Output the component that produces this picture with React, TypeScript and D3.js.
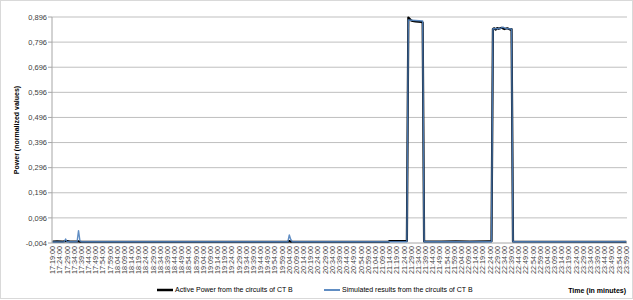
import React from "react";
import * as d3 from "d3";

const yTicks = [-0.004, 0.096, 0.196, 0.296, 0.396, 0.496, 0.596, 0.696, 0.796, 0.896];
const startTime = "17:19";
const endTime = "23:59";
const labelStep = 5;

const activeTimes = ["17:19","17:22","17:26","17:29","17:31","17:36","17:37","17:38","18:00","19:00","20:03","20:04","20:05","21:13","21:14","21:26","21:27","21:28","21:29","21:30","21:32","21:34","21:36","21:37","21:38","21:50","22:00","22:10","22:23","22:25","22:26","22:27","22:28","22:29","22:30","22:32","22:34","22:36","22:38","22:39","22:40","23:59"];
const activeValues = [0.002,0.003,0.002,0.004,0.002,0.002,0.003,0.001,0.001,0.001,0.001,0.004,0.001,0.001,0.004,0.004,0.894,0.888,0.882,0.880,0.878,0.877,0.876,0.874,0.002,0.002,0.003,0.002,0.003,0.003,0.848,0.851,0.846,0.852,0.849,0.853,0.848,0.851,0.846,0.848,0.002,0.001];

const simTimes = ["17:19","17:27","17:28","17:29","17:36","17:37","17:38","17:39","20:03","20:04","20:05","20:06","21:26","21:27","21:37","21:38","22:25","22:26","22:31","22:33","22:35","22:39","22:40","23:59"];
const simValues = [0.000,0.001,0.012,0.001,0.001,0.045,0.004,0.001,0.001,0.028,0.010,0.001,0.001,0.884,0.880,0.001,0.001,0.849,0.850,0.856,0.850,0.848,0.001,0.001];

const toMin = (t: string) => { const [h, m] = t.split(":").map(Number); return h * 60 + m; };
const fmtTime = (m: number) => `${String(Math.floor(m / 60)).padStart(2, "0")}:${String(m % 60).padStart(2, "0")}:00`;

export default function App() {
  const W = 633, H = 300;
  const left = 52, right = 627, top = 17, bottom = 243;
  const t0 = toMin(startTime), t1 = toMin(endTime);
  const n = t1 - t0 + 1;
  const slot = (right - left) / n;
  const x = d3.scaleLinear().domain([0, n - 1]).range([left + slot / 2, right - slot / 2]);
  const y = d3.scaleLinear().domain([-0.004, 0.896]).range([bottom, top]);
  const line = d3.line<[number, number]>().x(d => x(d[0])).y(d => y(d[1]));
  const active = activeTimes.map((t, i) => [toMin(t) - t0, activeValues[i]] as [number, number]);
  const sim = simTimes.map((t, i) => [toMin(t) - t0, simValues[i]] as [number, number]);
  const labels: number[] = [];
  for (let i = 0; i < n; i += labelStep) labels.push(i);
  const font = "'Liberation Sans', Arial, sans-serif";
  return (
    <svg width={W} height={H} style={{ position: "absolute", left: 0, top: 0, background: "#fff" }} fontFamily={font}>
      <rect x={0.5} y={0.5} width={W - 1} height={H - 2} fill="#fff" stroke="#d9d9d9" />
      {yTicks.map(v => (
        <g key={v}>
          {v > -0.004 && <line x1={left} x2={right} y1={y(v)} y2={y(v)} stroke="#bfbfbf" strokeWidth={1} />}
          <line x1={left - 4} x2={left} y1={y(v)} y2={y(v)} stroke="#a6a6a6" />
          <text x={left - 5} y={y(v)} dy="0.35em" textAnchor="end" fontSize={7.5} fill="#404040">{d3.format(".3f")(v).replace(".", ",").replace("−", "-")}</text>
        </g>
      ))}
      <line x1={left} x2={left} y1={top} y2={bottom} stroke="#a6a6a6" />
      <line x1={left} x2={right} y1={bottom} y2={bottom} stroke="#a6a6a6" />
      {labels.map(i => (
        <text key={i} transform={`translate(${x(i) + 2.5},${bottom + 3}) rotate(-90)`} textAnchor="end" fontSize={7.2} fill="#404040">{fmtTime(t0 + i)}</text>
      ))}
      <path d={line(active) || ""} fill="none" stroke="#000" strokeWidth={2.2} strokeLinejoin="round" />
      <path d={line(sim) || ""} fill="none" stroke="#4f81bd" strokeWidth={1.4} strokeLinejoin="round" opacity={0.9} />
      <text transform={`translate(19,${(top + bottom) / 2}) rotate(-90)`} textAnchor="middle" fontSize={7} fontWeight="bold" fill="#000">Power (normalized values)</text>
      <line x1={157} x2={173} y1={290} y2={290} stroke="#000" strokeWidth={2.5} />
      <text x={175} y={290} dy="0.35em" fontSize={7} fill="#000">Active Power from the circuits of CT B</text>
      <line x1={324} x2={340} y1={290} y2={290} stroke="#4f81bd" strokeWidth={1.8} />
      <text x={342} y={290} dy="0.35em" fontSize={7} fill="#000">Simulated results from the circuits of CT B</text>
      <text x={626} y={291} dy="0.35em" textAnchor="end" fontSize={7} fontWeight="bold" fill="#000">Time (in minutes)</text>
    </svg>
  );
}
